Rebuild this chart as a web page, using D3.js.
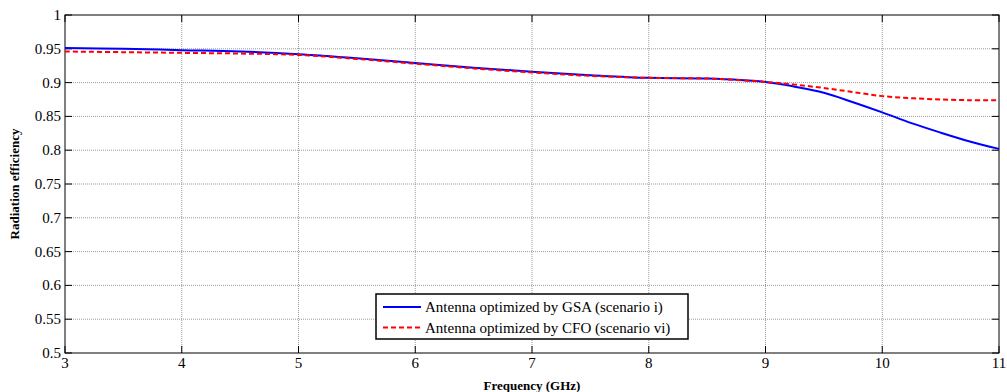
<!DOCTYPE html>
<html>
<head>
<meta charset="utf-8">
<script src="https://cdn.jsdelivr.net/npm/d3@7"></script>
<style>
  body { margin: 0; background: #fff; }
  text { font-family: "Liberation Serif", "Times New Roman", serif; }
</style>
</head>
<body>
<div id="chart"></div>
<script>
// values
const freqGSA = [3, 3.5, 4, 4.5, 5, 5.5, 6, 6.5, 7, 7.5, 8, 8.5, 9, 9.25, 9.5, 9.75, 10, 10.25, 10.5, 10.75, 11];
const effGSA  = [0.951, 0.950, 0.948, 0.946, 0.942, 0.936, 0.929, 0.922, 0.916, 0.911, 0.907, 0.906, 0.901, 0.894, 0.885, 0.871, 0.856, 0.840, 0.826, 0.813, 0.802];
const freqCFO = [3, 3.5, 4, 4.5, 5, 5.5, 6, 6.5, 7, 7.5, 8, 8.5, 9, 9.25, 9.5, 9.75, 10, 10.25, 10.5, 10.75, 11];
const effCFO  = [0.946, 0.945, 0.944, 0.943, 0.941, 0.935, 0.928, 0.921, 0.915, 0.910, 0.907, 0.906, 0.901, 0.897, 0.892, 0.886, 0.880, 0.877, 0.875, 0.874, 0.874];
const xTicks = [3, 4, 5, 6, 7, 8, 9, 10, 11];
const yTicks = [0.5, 0.55, 0.6, 0.65, 0.7, 0.75, 0.8, 0.85, 0.9, 0.95, 1];
const legendLabels = ["Antenna optimized by GSA (scenario i)", "Antenna optimized by CFO (scenario vi)"];

const width = 1007, height = 392;
const margin = { left: 65, right: 8, top: 15, bottom: 39 };

const svg = d3.select("#chart").append("svg")
    .attr("width", width)
    .attr("height", height)
    .style("display", "block");

const x = d3.scaleLinear().domain([3, 11]).range([margin.left, width - margin.right]);
const y = d3.scaleLinear().domain([0.5, 1]).range([height - margin.bottom, margin.top]);

// grid lines
svg.append("g").selectAll("line")
    .data(xTicks.slice(1, -1))
    .enter().append("line")
    .attr("x1", d => x(d)).attr("x2", d => x(d))
    .attr("y1", y(0.5)).attr("y2", y(1))
    .attr("stroke", "#999").attr("stroke-width", 1)
    .attr("stroke-dasharray", "1,1");

svg.append("g").selectAll("line")
    .data(yTicks.slice(1, -1))
    .enter().append("line")
    .attr("x1", x(3)).attr("x2", x(11))
    .attr("y1", d => y(d)).attr("y2", d => y(d))
    .attr("stroke", "#999").attr("stroke-width", 1)
    .attr("stroke-dasharray", "1,1");

// frame
svg.append("rect")
    .attr("x", x(3)).attr("y", y(1))
    .attr("width", x(11) - x(3)).attr("height", y(0.5) - y(1))
    .attr("fill", "none").attr("stroke", "#000").attr("stroke-width", 1);

// inward tick marks
const tickLen = 7;
xTicks.forEach(t => {
    svg.append("line").attr("x1", x(t)).attr("x2", x(t))
        .attr("y1", y(0.5)).attr("y2", y(0.5) - tickLen).attr("stroke", "#000");
    svg.append("line").attr("x1", x(t)).attr("x2", x(t))
        .attr("y1", y(1)).attr("y2", y(1) + tickLen).attr("stroke", "#000");
});
yTicks.forEach(t => {
    svg.append("line").attr("x1", x(3)).attr("x2", x(3) + tickLen)
        .attr("y1", y(t)).attr("y2", y(t)).attr("stroke", "#000");
    svg.append("line").attr("x1", x(11)).attr("x2", x(11) - tickLen)
        .attr("y1", y(t)).attr("y2", y(t)).attr("stroke", "#000");
});

// tick labels
svg.append("g").selectAll("text")
    .data(xTicks)
    .enter().append("text")
    .attr("x", d => x(d)).attr("y", y(0.5) + 15)
    .attr("text-anchor", "middle")
    .style("font-size", "15px")
    .text(d => d);

svg.append("g").selectAll("text")
    .data(yTicks)
    .enter().append("text")
    .attr("x", x(3) - 4).attr("y", d => y(d) + 5)
    .attr("text-anchor", "end")
    .style("font-size", "15px")
    .text(d => d);

// axis titles
svg.append("text")
    .attr("x", (x(3) + x(11)) / 2).attr("y", height - 2)
    .attr("text-anchor", "middle")
    .style("font-size", "13px").style("font-weight", "bold")
    .text("Frequency (GHz)");

svg.append("text")
    .attr("transform", `translate(19,${(y(0.5) + y(1)) / 2}) rotate(-90)`)
    .attr("text-anchor", "middle")
    .style("font-size", "13px").style("font-weight", "bold")
    .text("Radiation efficiency");

// curves
const line = d3.line()
    .x(d => x(d[0]))
    .y(d => y(d[1]))
    .curve(d3.curveCatmullRom.alpha(0.5));

svg.append("path")
    .datum(d3.zip(freqGSA, effGSA))
    .attr("d", line)
    .attr("fill", "none").attr("stroke", "#0000ff").attr("stroke-width", 2);

svg.append("path")
    .datum(d3.zip(freqCFO, effCFO))
    .attr("d", line)
    .attr("fill", "none").attr("stroke", "#ff0000").attr("stroke-width", 2)
    .attr("stroke-dasharray", "5,3");

// legend
const lg = svg.append("g").attr("transform", "translate(376,294)");
lg.append("rect")
    .attr("width", 312).attr("height", 45)
    .attr("fill", "#fff").attr("stroke", "#000").attr("stroke-width", 1.5);

const legendStyles = [
    { color: "#0000ff", dash: null },
    { color: "#ff0000", dash: "5,3" }
];
legendLabels.forEach((lab, i) => {
    const yy = 13 + i * 20.5;
    lg.append("line")
        .attr("x1", 7).attr("x2", 45)
        .attr("y1", yy).attr("y2", yy)
        .attr("stroke", legendStyles[i].color).attr("stroke-width", 2)
        .attr("stroke-dasharray", legendStyles[i].dash);
    lg.append("text")
        .attr("x", 49).attr("y", yy + 5)
        .style("font-size", "15px")
        .text(lab);
});
</script>
</body>
</html>
